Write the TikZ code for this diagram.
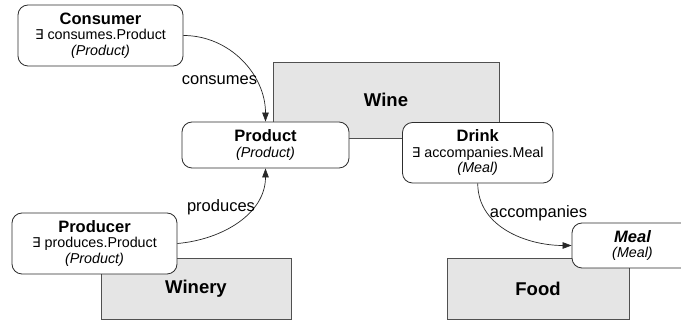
\documentclass[tikz,border=0pt]{standalone}
\usepackage{fontspec}
\setmainfont{Liberation Sans}
\newfontfamily\symfont{DejaVu Sans}
\usetikzlibrary{arrows.meta}
\definecolor{grayfill}{RGB}{229,229,229}
\definecolor{grayline}{RGB}{80,80,80}
\definecolor{boxline}{RGB}{45,45,45}
\definecolor{edgeline}{RGB}{40,40,40}
\newcommand\clsname[1]{{\fontsize{16.5}{15.5}\selectfont\bfseries #1}}
\newcommand\clsnote[1]{{\itshape #1}}
\newcommand\exq{{\symfont\fontsize{13.5}{15.5}\selectfont ∃}}
\begin{document}
\begin{tikzpicture}[x=1pt,y=-1pt,
  region/.style={draw=grayline,fill=grayfill,line width=0.8pt,inner sep=0pt,
    font=\fontsize{18.5}{20}\selectfont\bfseries},
  classbox/.style={draw=boxline,fill=white,rounded corners=10pt,line width=0.8pt,
    align=center,inner sep=0pt,font=\fontsize{14.3}{15.5}\selectfont},
  conn/.style={draw=edgeline,line width=0.7pt,-{Triangle[length=9pt,width=6.5pt]}},
  edgelabel/.style={inner sep=0pt,font=\fontsize{16.5}{18}\selectfont}]
\useasboundingbox (0,0) rectangle (681,320);
\clip (0,0) rectangle (681,320);
\fill[white] (0,0) rectangle (681,320);

% grey regions
\node[region,minimum width=226pt,minimum height=76pt] (wine) at (386,100) {Wine};
\node[region,minimum width=190pt,minimum height=61pt] (winery) at (196,288.5) {Winery};
\node[region,minimum width=182pt,minimum height=61pt] (food) at (538,288.5) {Food};

% classes
\node[classbox,minimum width=165pt,minimum height=61pt] (consumer) at (100.5,35.5)
  {\clsname{Consumer}\\\exq{} consumes.Product\\\clsnote{(Product)}};
\node[classbox,minimum width=167pt,minimum height=46pt] (product) at (265.5,145)
  {\clsname{Product}\\\clsnote{(Product)}};
\node[classbox,minimum width=150.5pt,minimum height=60.5pt] (drink) at (477.75,152.75)
  {\clsname{Drink}\\\exq{} accompanies.Meal\\\clsnote{(Meal)}};
\node[classbox,minimum width=121pt,minimum height=45pt] (meal) at (632.5,245.5)
  {\clsname{\itshape Meal}\\\clsnote{(Meal)}};
\node[classbox,minimum width=165pt,minimum height=61pt] (producer) at (94.5,243.5)
  {\clsname{Producer}\\\exq{} produces.Product\\\clsnote{(Product)}};

% relations
\draw[conn] (consumer.east) to[out=0,in=90] (product.north);
\draw[conn] (producer.east) to[out=5,in=-90] (product.south);
\draw[conn] (drink.south) to[out=-90,in=180] (meal.west);

\node[edgelabel] (lconsumes) at (219.5,80) {consumes};
\node[edgelabel] (lproduces) at (221,207) {produces};
\node[edgelabel] (laccomp) at (538.5,213) {accompanies};
\end{tikzpicture}
\end{document}
